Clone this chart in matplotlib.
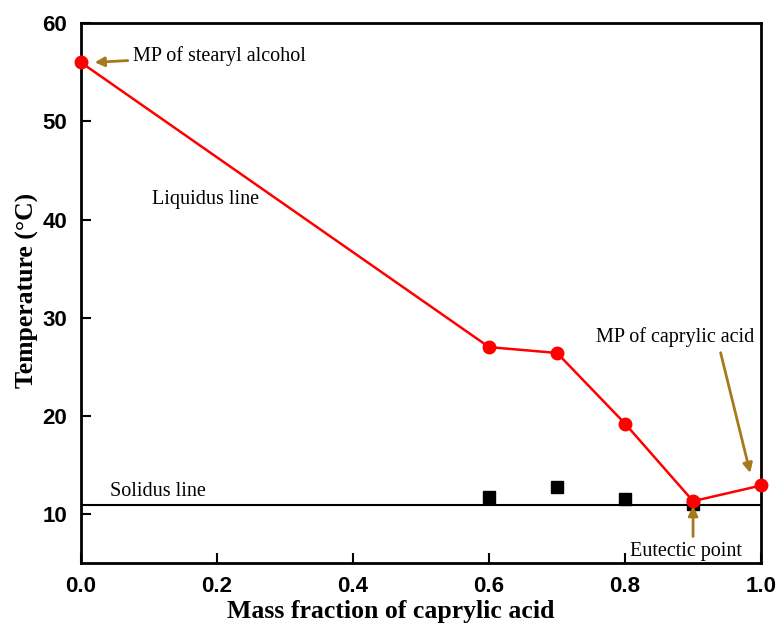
import matplotlib
matplotlib.use('Agg')
import matplotlib.pyplot as plt

# liquidus (DSC melting points) and solidus (eutectic) data
liq_x = [0.0, 0.6, 0.7, 0.8, 0.9, 1.0]
liq_t = [56.0, 27.0, 26.4, 19.2, 11.3, 12.9]
sol_x = [0.6, 0.7, 0.8, 0.9]
sol_t = [11.7, 12.7, 11.5, 11.0]
solidus_t = 10.9

gold = '#A57A1C'
serif = 'Liberation Serif'

fig = plt.figure(figsize=(7.79, 6.28), dpi=100)
ax = fig.add_axes([0.104, 0.1035, 0.873, 0.8595])

ax.axhline(solidus_t, color='black', lw=1.5, zorder=1)
ax.plot(sol_x, sol_t, 's', color='black', ms=8, zorder=2)
ax.plot(liq_x, liq_t, '-o', color='red', lw=1.8, ms=9, zorder=3, clip_on=False)

ax.set_xlim(0, 1.0)
ax.set_ylim(5, 60)
ax.set_xticks([0.0, 0.2, 0.4, 0.6, 0.8, 1.0])
ax.set_yticks([10, 20, 30, 40, 50, 60])
ax.tick_params(direction='in', length=7, width=1.5, labelsize=16)
ax.tick_params(axis='x', pad=9)
ax.tick_params(axis='y', pad=10)
for lab in ax.get_xticklabels() + ax.get_yticklabels():
    lab.set_fontweight('bold')
    lab.set_family('Liberation Sans')
for s in ax.spines.values():
    s.set_linewidth(2)

ax.set_xlabel('Mass fraction of caprylic acid', fontsize=18.5, fontweight='bold',
              family=serif)
ax.xaxis.set_label_coords(0.456, -0.068)
ax.set_ylabel('Temperature (\u00b0C)', fontsize=18.5, fontweight='bold',
              family=serif)
ax.yaxis.set_label_coords(-0.062, 0.505)

# annotations
fs = 14.5
ax.annotate('MP of stearyl alcohol', xy=(0.016, 56.0), xytext=(0.077, 56.7),
            fontsize=fs, family=serif, va='center',
            arrowprops=dict(arrowstyle='-|>', color=gold, lw=2, mutation_scale=14))
ax.text(0.105, 42.0, 'Liquidus line', fontsize=fs, family=serif, va='center')
ax.text(0.043, 12.3, 'Solidus line', fontsize=fs, family=serif, va='center')
ax.annotate('MP of caprylic acid', xy=(0.985, 13.9), xytext=(0.757, 28.0),
            fontsize=fs, family=serif, va='center',
            arrowprops=dict(arrowstyle='-|>', color=gold, lw=2, mutation_scale=14,
                            relpos=(0.78, 0)))
ax.annotate('', xy=(0.9, 10.8), xytext=(0.9, 7.7),
            arrowprops=dict(arrowstyle='-|>', color=gold, lw=2, mutation_scale=14,
                            shrinkA=0, shrinkB=0))
ax.text(0.807, 6.2, 'Eutectic point', fontsize=fs, family=serif, va='center')

fig.savefig('out.png', dpi=100)
